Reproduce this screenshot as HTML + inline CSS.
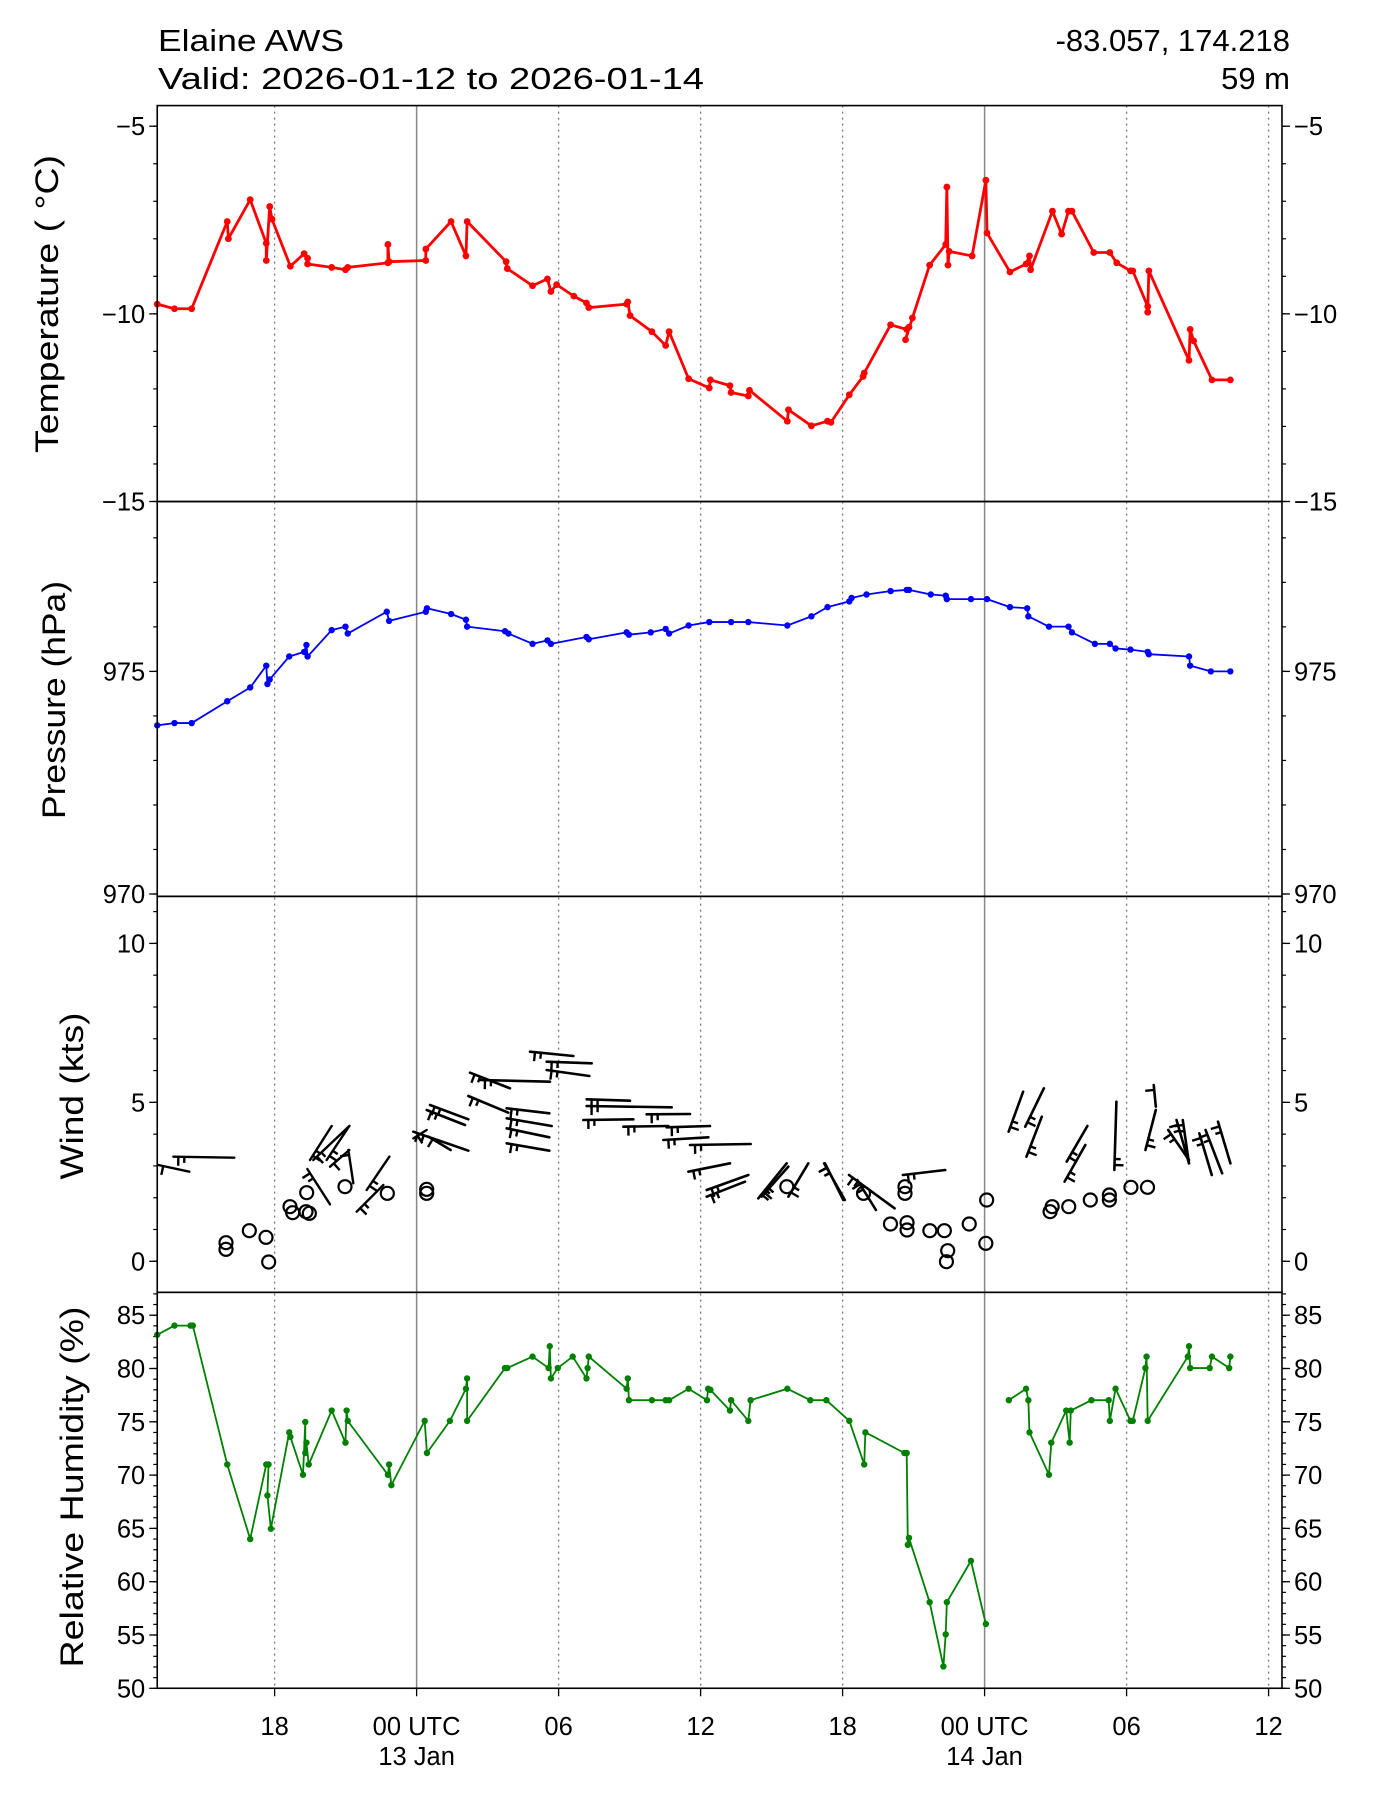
<!DOCTYPE html>
<html><head><meta charset="utf-8"><style>
html,body{margin:0;padding:0;background:#fff;}
svg{display:block;font-family:"Liberation Sans","DejaVu Sans",sans-serif;}
</style></head><body>
<svg id="s" xmlns="http://www.w3.org/2000/svg" width="1400" height="1800" viewBox="0 0 1400 1800">
<rect width="1400" height="1800" fill="#fff"/>
<text x="158" y="51" font-size="31" textLength="186" lengthAdjust="spacingAndGlyphs">Elaine AWS</text>
<text x="158" y="89" font-size="31" textLength="546" lengthAdjust="spacingAndGlyphs">Valid: 2026-01-12 to 2026-01-14</text>
<text x="1290" y="51" font-size="31" text-anchor="end">-83.057, 174.218</text>
<text x="1290" y="89" font-size="31" text-anchor="end">59 m</text>
<g id="g"></g>
</svg>
<script>
const NS="http://www.w3.org/2000/svg",G=document.getElementById('g');
function el(t,a,p){const e=document.createElementNS(NS,t);for(const k in a)e.setAttribute(k,a[k]);(p||G).appendChild(e);return e;}
function txt(x,y,s,a){const e=el('text',Object.assign({x:x,y:y},a||{}));e.textContent=s;return e;}
const K=1.1477;
const L=137*K,R=1117*K;
const P=[92*K,437*K,781*K,1126*K,1471*K];
const X=h=>(363+h*20.62)*K;
for(const h of [-6,6,12,18,30,36]) el('line',{x1:X(h),x2:X(h),y1:P[0],y2:P[4],stroke:'#777','stroke-width':1.3,'stroke-dasharray':'2,4'});
for(const h of [0,24]) el('line',{x1:X(h),x2:X(h),y1:P[0],y2:P[4],stroke:'#888','stroke-width':1.5});
const FS=25.5;
function axis(top,bot,f,majors,minors,fmt){
 for(const v of minors){const y=f(v);if(y<top-0.5||y>bot+0.5)continue;
  el('line',{x1:L-4,x2:L,y1:y,y2:y,stroke:'#000','stroke-width':1.2});el('line',{x1:R,x2:R+4,y1:y,y2:y,stroke:'#000','stroke-width':1.2});}
 for(const v of majors){const y=f(v);
  el('line',{x1:L-8,x2:L,y1:y,y2:y,stroke:'#000','stroke-width':1.3});el('line',{x1:R,x2:R+8,y1:y,y2:y,stroke:'#000','stroke-width':1.3});
  txt(L-12,y+9,fmt(v),{'font-size':FS,'text-anchor':'end'});txt(R+12,y+9,fmt(v),{'font-size':FS});}
}
const m=v=>v<0?'\u2212'+(-v):''+v;
const fT=t=>501.5-(t+15)*37.53, fP=p=>894-(p-970)*44.52, fW=w=>1261.3-w*31.79, fH=h=>1688.3-(h-50)*10.66;
const rng=(a,b,s)=>{const r=[];for(let v=a;v<=b+1e-9;v+=s)r.push(Math.round(v*10)/10);return r;};
axis(P[0],P[1],fT,[-5,-10,-15],rng(-15,-4,1),m);
axis(P[1],P[2],fP,[975,970],rng(970,978,1),m);
axis(P[2],P[3],fW,[0,5,10],rng(-1,11,1),m);
axis(P[3],P[4],fH,rng(50,85,5),rng(50,87,1),m);
function ylab(cx,cy,s,len){txt(0,0,s,{'font-size':32,'text-anchor':'middle',transform:`translate(${cx},${cy}) rotate(-90)`,textLength:len,lengthAdjust:'spacingAndGlyphs'});}
ylab(58,304,'Temperature ( \u00B0C)',298);
ylab(65,700,'Pressure (hPa)',238);
ylab(83,1096,'Wind (kts)',167);
ylab(83,1487,'Relative Humidity (%)',361);
const xl=[[-6,'18'],[0,'00 UTC','13 Jan'],[6,'06'],[12,'12'],[18,'18'],[24,'00 UTC','14 Jan'],[30,'06'],[36,'12']];
for(const t of xl){const x=X(t[0]);el('line',{x1:x,x2:x,y1:P[4],y2:P[4]+8,stroke:'#000','stroke-width':1.3});
 txt(x,1735,t[1],{'font-size':FS,'text-anchor':'middle'});if(t[2])txt(x,1765,t[2],{'font-size':FS,'text-anchor':'middle'});}
function series(arr,col,w,r){const pts=arr.map(p=>[p[0]*K,p[1]*K]);
 el('polyline',{points:pts.map(p=>p.join(',')).join(' '),fill:'none',stroke:col,'stroke-width':w,'stroke-linejoin':'round'});
 for(const p of pts)el('circle',{cx:p[0],cy:p[1],r:r,fill:col});}
const T=[[137,265],[152,269],[167,269],[198,193],[199,208],[218,174],[232,212],[232,227],[235,180],[237,191],[253,232],[265,221],[268,225],[268,230],[289,233],[301,235],[303,233],[338,229],[338,213],[339,228],[371,227],[371,217],[393,193],[406,223],[407,193],[441,228],[442,234],[464,249],[477,243],[480,254],[485,248],[500,258],[511,264],[513,268],[546,265],[547,263],[549,275],[568,289],[580,301],[583,289],[600,330],[618,338],[619,331],[636,336],[637,342],[652,345],[653,340],[686,367],[687,357],[707,371],[721,367],[724,368],[740,344],[752,328],[753,325],[776,283],[790,287],[792,285],[789,296],[795,277],[810,231],[824,213],[825,163],[826,231],[827,219],[847,223],[859,157],[860,203],[880,237],[894,230],[897,223],[898,235],[917,184],[925,204],[931,184],[934,184],[953,220],[967,220],[973,229],[985,236],[987,236],[1000,267],[1000,272],[1001,236],[1036,314],[1037,287],[1040,297],[1056,331],[1072,331]];
series(T,'#ff0000',2.8,3.4);
const Pr=[[137,632],[152,630],[167,630],[198,611],[218,599],[232,580],[233,596],[235,592],[252,572],[265,568],[267,562],[268,572],[289,549],[301,546],[303,552],[337,533],[339,541],[371,533],[372,530],[393,535],[406,540],[407,546],[440,550],[443,552],[464,561],[477,558],[480,561],[511,555],[513,557],[546,551],[548,553],[567,551],[580,548],[583,552],[600,545],[618,542],[637,542],[652,542],[686,545],[707,537],[721,529],[740,524],[742,521],[755,518],[776,515],[790,514],[792,514],[811,518],[824,519],[825,522],[846,522],[860,522],[880,529],[895,530],[896,537],[914,546],[931,546],[934,551],[954,561],[967,561],[972,565],[985,566],[1000,568],[1001,570],[1036,572],[1037,580],[1055,585],[1072,585]];
series(Pr,'#0000ff',1.8,3.2);
const H1=[[137,1163],[152,1155],[166,1155],[168,1155],[198,1276],[218,1341],[232,1276],[234,1276],[233,1303],[236,1332],[252,1248],[253,1252],[264,1285],[266,1239],[266,1266],[267,1257],[269,1276],[289,1229],[301,1257],[302,1229],[303,1238],[338,1285],[339,1276],[341,1294],[370,1238],[372,1266],[392,1238],[406,1210],[407,1201],[407,1238],[440,1192],[442,1192],[464,1182],[478,1192],[479,1173],[480,1201],[486,1192],[499,1182],[511,1201],[512,1192],[513,1182],[546,1210],[547,1201],[548,1220],[568,1220],[580,1220],[583,1220],[600,1210],[616,1220],[617,1210],[619,1211],[636,1229],[637,1220],[652,1238],[654,1220],[686,1210],[706,1220],[720,1220],[740,1238],[753,1276],[754,1248],[788,1266],[790,1266],[791,1346],[792,1340],[810,1396],[822,1452],[824,1424],[825,1396],[846,1360],[859,1415]];
const H2=[[879,1220],[894,1210],[896,1220],[897,1248],[914,1285],[916,1257],[929,1229],[932,1257],[933,1229],[951,1220],[966,1220],[967,1238],[972,1210],[985,1238],[987,1238],[998,1192],[999,1182],[1000,1238],[1035,1182],[1036,1173],[1037,1192],[1054,1192],[1056,1182],[1071,1192],[1072,1182]];
series(H1,'#008000',1.8,3.2);series(H2,'#008000',1.8,3.2);
function barbs(list,ox,oy,sx,sy,w){
 for(const b of list){const x1=ox+b[0]*sx,y1=oy+b[1]*sy,x2=ox+b[2]*sx,y2=oy+b[3]*sy;
  el('line',{x1:x1,y1:y1,x2:x2,y2:y2,stroke:'#000','stroke-width':w||2,'stroke-linecap':'round'});
  const dx=x2-x1,dy=y2-y1,l=Math.hypot(dx,dy)||1,ux=dx/l,uy=dy/l;let nx=-uy,ny=ux;if(ny<0){nx=-nx;ny=-ny;}
  const bx=x1+ux*5,by=y1+uy*5;
  el('line',{x1:bx,y1:by,x2:bx+nx*9,y2:by+ny*9,stroke:'#000','stroke-width':2.4});
  if(l>35){const cx=x1+ux*11,cy=y1+uy*11;el('line',{x1:cx,y1:cy,x2:cx+nx*6,y2:cy+ny*6,stroke:'#000','stroke-width':2.4});}
 }}
const Z4=[[25,435,118,455],[70,410,253,413],[480,420,545,318],[490,420,598,318],[530,420,598,318],[472,447,540,553],[540,440,598,390],[595,390,610,490],[650,510,718,410],[620,575,700,495],[790,355,830,330]];
barbs(Z4,150,1020,1/3,1/3,2.4);
const Z6=[[90,315,205,358],[80,330,195,375],[40,395,205,452],[85,410,152,450],[210,218,330,265],[205,288,325,338],[320,325,448,340],[320,355,455,378],[320,385,448,412],[320,430,448,452],[240,240,450,245],[390,155,520,168],[440,185,575,190],[440,210,568,228],[560,298,690,302],[560,318,815,322],[550,360,700,358],[670,380,805,378],[740,343,870,342],[790,420,925,412],[800,382,930,378],[870,435,1052,432],[865,515,990,490],[920,570,1045,525],[920,590,1035,545],[1075,595,1160,490],[1085,590,1165,500],[1165,590,1225,490],[1275,490,1330,600]];
barbs(Z6,400,1000,1/3,1/3,2.6);
const Z5=[[420,430,470,540],[480,465,590,565],[500,480,545,570],[610,465,712,450],[865,335,900,215],[905,320,950,205],[908,410,945,290],[1000,485,1050,375],[1005,425,1055,318],[1120,450,1125,245],[1195,390,1220,270],[1215,195,1220,260],[1250,330,1300,420],[1270,300,1300,430],[1285,300,1300,430],[1325,340,1355,465],[1340,330,1380,460],[1370,305,1400,430]];
barbs(Z5,650,1020,1/2.412,1/3,2.6);
const C4=[[228,668],[228,688],[298,632],[348,652],[356,726],[420,560],[428,578],[470,518],[468,575],[478,580],[585,500],[712,520],[830,508],[830,520]];
for(const c of C4)el('circle',{cx:150+c[0]/3,cy:1020+c[1]/3,r:6.5,fill:'none',stroke:'#000','stroke-width':2.2});
const C5=[[580,612],[620,608],[620,630],[675,632],[710,632],[718,692],[715,725],[770,612],[812,540],[810,670],[615,500],[615,520],[515,520],[965,575],[970,560],[1010,560],[1062,540],[1108,525],[1108,540],[1160,502],[1200,502],[330,500]];
for(const c of C5)el('circle',{cx:650+c[0]/2.412,cy:1020+c[1]/3,r:6.5,fill:'none',stroke:'#000','stroke-width':2.2});
for(let i=0;i<4;i++)el('rect',{x:L,y:P[i],width:R-L,height:P[i+1]-P[i],fill:'none',stroke:'#000','stroke-width':1.6});
</script>
</body></html>
